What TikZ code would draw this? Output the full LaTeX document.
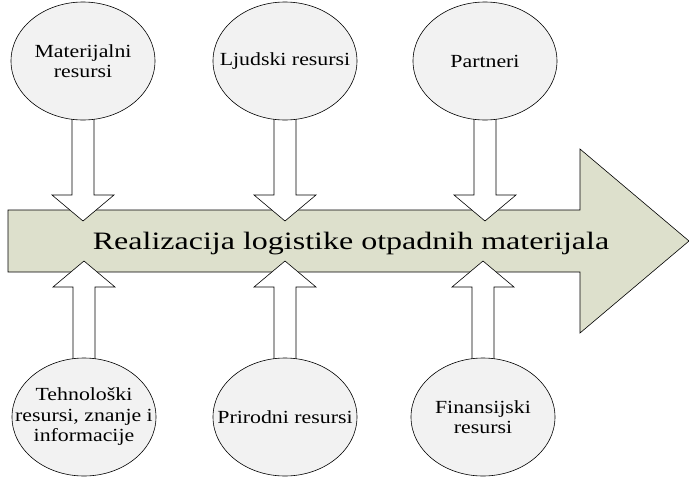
\documentclass[tikz,border=0pt]{standalone}
\usepackage{fontspec}
\usepackage{tikz}
\usetikzlibrary{shapes,arrows,positioning,calc}
\newfontfamily\bigfont[FakeStretch=1.28]{Liberation Serif}
\newfontfamily\labelfont[FakeStretch=1.18]{Liberation Serif}
\definecolor{resfill}{RGB}{242,242,242}
\definecolor{flowfill}{RGB}{221,224,204}
\pgfdeclarelayer{back}
\pgfsetlayers{back,main}

\begin{document}
\begin{tikzpicture}[
    x=1pt, y=-1pt,
    res/.style={ellipse, draw, line width=0.6pt, fill=resfill, minimum width=144pt, minimum height=118pt, inner xsep=-30pt, inner ysep=0pt, align=center, font=\labelfont\fontsize{18.5}{20.5}\selectfont},
    flow/.style={draw, line width=0.6pt, fill=flowfill},
    hollow/.style={draw, line width=0.6pt, fill=white, to path={let \p1=(\tikztostart), \p2=(\tikztotarget), \n1={sign(\y2-\y1)} in
        ({\x1-11pt},\y1) -- ({\x1-11pt},{\y2-(\n1)*26pt}) -- ({\x1-31pt},{\y2-(\n1)*26pt}) -- (\x2,\y2)
        -- ({\x1+31pt},{\y2-(\n1)*26pt}) -- ({\x1+11pt},{\y2-(\n1)*26pt}) -- ({\x1+11pt},\y1) -- cycle}}
]
\useasboundingbox (0,0) rectangle (689,477);

% Nodes
\node[res] (mat) at (83,61) {Materijalni\\resursi};
\node[res] (ljud) at (285,61) {Ljudski resursi};
\node[res] (part) at (485,61) {Partneri};
\node[res] (teh) at (84,417) {Tehnološki\\resursi, znanje i\\informacije};
\node[res] (pri) at (285,417) {Prirodni resursi};
\node[res] (fin) at (483,417) {Finansijski\\resursi};
\node[font=\bigfont\fontsize{25}{30}\selectfont, anchor=base] (real) at (351,249) {Realizacija logistike otpadnih materijala};
\coordinate (topin) at (0,221);
\coordinate (botin) at (0,261);

% Arrows
\begin{pgfonlayer}{back}
\draw[flow] (8,210) -- (580,210) -- (580,149) -- (689,241) -- (580,333) -- (580,272) -- (8,272) -- cycle;
\draw[hollow] (mat.center) to (mat |- topin);
\draw[hollow] (ljud.center) to (ljud |- topin);
\draw[hollow] (part.center) to (part |- topin);
\draw[hollow] (teh.center) to (teh |- botin);
\draw[hollow] (pri.center) to (pri |- botin);
\draw[hollow] (fin.center) to (fin |- botin);
\end{pgfonlayer}

\end{tikzpicture}
\end{document}
